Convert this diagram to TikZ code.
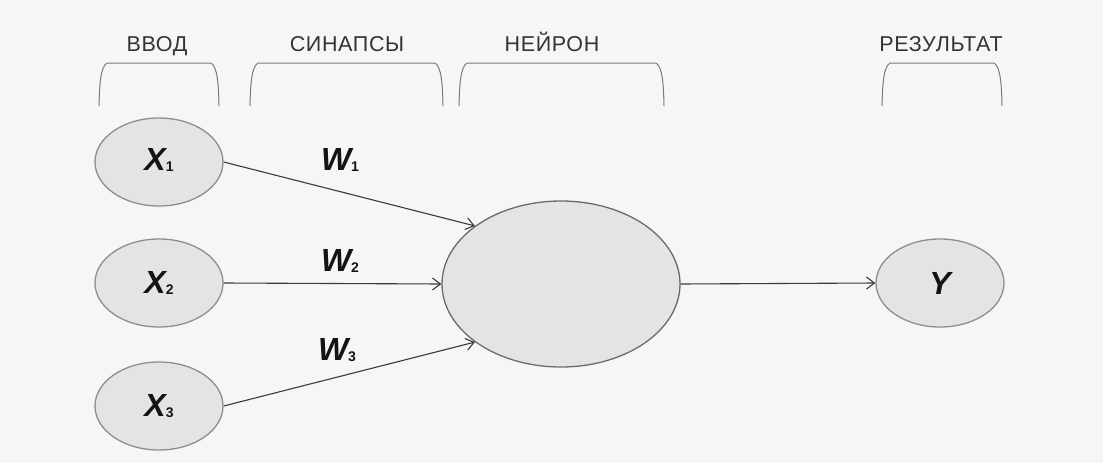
\documentclass[tikz,border=0pt]{standalone}
\usepackage{fontspec}
\setmainfont{Liberation Sans}
\newfontfamily\headfont[LetterSpace=3]{Liberation Sans}
\newfontfamily\varfont{Liberation Sans}
\usetikzlibrary{shapes.geometric,arrows.meta}

\definecolor{bgcol}{HTML}{F6F6F6}
\definecolor{cellfill}{HTML}{E4E4E4}
\definecolor{cellline}{HTML}{8E8E8E}
\definecolor{wirecol}{HTML}{3A3A3A}
\definecolor{headcol}{HTML}{333333}
\definecolor{bracecol}{HTML}{7A7A7A}

\tikzset{
  unit/.style={ellipse, draw=cellline, fill=cellfill, line width=1.3pt,
    minimum width=128pt, minimum height=88pt, inner sep=0pt},
  soma/.style={ellipse, draw=wirecol!75, fill=cellfill, line width=1.3pt,
    minimum width=238pt, minimum height=166pt, inner sep=0pt},
  head/.style={font=\headfont\fontsize{21.5}{24}\selectfont, text=headcol,
    inner sep=0pt, anchor=base},
  var/.style={font=\varfont\fontsize{32}{34}\selectfont\bfseries\itshape, text=black!92, inner sep=0pt},
  wire/.style={draw=wirecol, line width=1.1pt,
    -{Straight Barb[length=8pt,width=12pt,line width=1.1pt]}},
  brace/.style={draw=bracecol, line width=1pt}
}
% subscript index
\newcommand{\idx}[1]{\raisebox{-1pt}{\fontsize{14}{14}\selectfont\upshape\bfseries #1}}

\begin{document}
\begin{tikzpicture}[x=1pt,y=-1pt]
  \fill[bgcol] (0,0) rectangle (1103,463);
  \useasboundingbox (0,0) rectangle (1103,463);

  % column headings (shared baseline)
  \node[head] (hIn)  at (157,51) {ВВОД};
  \node[head] (hSyn) at (347,51) {СИНАПСЫ};
  \node[head] (hNeu) at (552,51) {НЕЙРОН};
  \node[head] (hOut) at (941,51) {РЕЗУЛЬТАТ};

  % brackets under the headings
  \foreach \a/\b in {99/219, 250/443, 459/664, 882/1002}{
    \draw[brace] (\a,106) .. controls (\a+0.5,84) and (\a+1.5,67) .. (\a+8,63)
      -- (\b-8,63) .. controls (\b-1.5,67) and (\b-0.5,84) .. (\b,106);
  }

  % inputs, neuron, output
  \node[unit] (x1) at (159,162) {};
  \node[unit] (x2) at (159,283) {};
  \node[unit] (x3) at (159,406) {};
  \node[soma] (n)  at (561,284) {};
  \node[unit] (y)  at (940,283) {};

  \node[var] (tx1) at (159,160) {X\idx{1}};
  \node[var] (tx2) at (159,283) {X\idx{2}};
  \node[var] (tx3) at (159,406) {X\idx{3}};
  \node[var] (ty)  at (940,283) {Y};

  % synapses
  \draw[wire] (x1.east) -- (n.146);
  \draw[wire] (x2.east) -- (n.west);
  \draw[wire] (x3.east) -- (n.214);
  \draw[wire] (n.east) -- (y.west);

  \node[var] (w1) at (340,160) {W\idx{1}};
  \node[var] (w2) at (340,261) {W\idx{2}};
  \node[var] (w3) at (337,350) {W\idx{3}};
\end{tikzpicture}
\end{document}
